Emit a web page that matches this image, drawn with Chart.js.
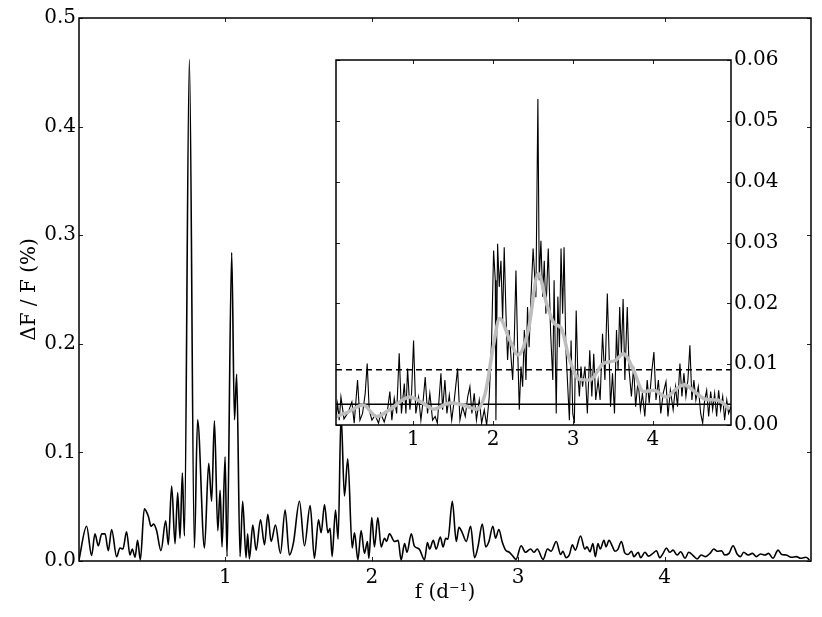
<!DOCTYPE html>
<html lang="en">
<head>
  <meta charset="UTF-8">
  <title>Amplitude spectrum</title>
  <script src="https://cdn.jsdelivr.net/npm/chart.js"></script>
  <style>
    body { margin: 0; background: #fff; }
    #wrap { position: relative; width: 822px; height: 617px; }
    #mainChart { position: absolute; left: 0; top: 0; }
    #insetChart { position: absolute; left: 326px; top: 45px; }
  </style>
</head>
<body>
  <div id="wrap">
    <canvas id="mainChart" width="822" height="617"></canvas>
    <canvas id="insetChart" width="480" height="410"></canvas>
  </div>

  <script>
    // main amplitude spectrum, f in d^-1, amplitude in %
    const mainFreq = [
      0.0, 0.052, 0.086, 0.109, 0.132, 0.155, 0.178, 0.20, 0.223, 0.257, 0.28, 0.30, 0.325, 0.348, 0.364, 0.383, 0.40, 0.419,
      0.446, 0.474, 0.492, 0.51, 0.53, 0.56, 0.592, 0.61, 0.633, 0.656, 0.674, 0.69, 0.706, 0.72, 0.754, 0.788, 0.81, 0.857,
      0.886, 0.906, 0.925, 0.948, 0.964, 0.977, 0.998, 1.011, 1.043, 1.062, 1.077, 1.10, 1.118, 1.141, 1.152, 1.164, 1.187,
      1.21, 1.24, 1.267, 1.29, 1.312, 1.342, 1.376, 1.408, 1.437, 1.465, 1.506, 1.54, 1.579, 1.608, 1.636, 1.654, 1.677, 1.70,
      1.715, 1.729, 1.752, 1.77, 1.79, 1.813, 1.836, 1.866, 1.882, 1.905, 1.927, 1.95, 1.97, 1.98, 2.0, 2.018, 2.041, 2.064,
      2.087, 2.10, 2.121, 2.155, 2.18, 2.20, 2.224, 2.24, 2.27, 2.29, 2.324, 2.36, 2.38, 2.395, 2.42, 2.44, 2.468, 2.487,
      2.505, 2.52, 2.55, 2.577, 2.595, 2.618, 2.645, 2.675, 2.702, 2.725, 2.755, 2.778, 2.80, 2.827, 2.845, 2.868, 2.89,
      2.914, 2.94, 2.96, 2.985, 3.02, 3.05, 3.085, 3.107, 3.13, 3.17, 3.2, 3.225, 3.26, 3.29, 3.305, 3.327, 3.35, 3.37, 3.39,
      3.426, 3.455, 3.47, 3.49, 3.51, 3.527, 3.545, 3.56, 3.586, 3.60, 3.62, 3.645, 3.66, 3.68, 3.705, 3.728, 3.75, 3.774,
      3.79, 3.82, 3.836, 3.866, 3.89, 3.92, 3.944, 3.967, 3.99, 4.012, 4.035, 4.058, 4.085, 4.11, 4.14, 4.165, 4.195, 4.222,
      4.25, 4.28, 4.31, 4.336, 4.36, 4.39, 4.41, 4.44, 4.468, 4.495, 4.518, 4.54, 4.57, 4.60, 4.627, 4.655, 4.685, 4.71,
      4.74, 4.775, 4.80, 4.83, 4.865, 4.9, 4.93, 4.965, 4.99
    ];
    const mainAmp = [
      0.001, 0.032, 0.005, 0.025, 0.014, 0.025, 0.025, 0.0095, 0.029, 0.004, 0.012, 0.011, 0.027, 0.0055, 0.011, 0.0035, 0.019, 0.001,
      0.048, 0.041, 0.032, 0.034, 0.028, 0.0095, 0.037, 0.015, 0.069, 0.016, 0.063, 0.021, 0.081, 0.023, 0.462, 0.012, 0.13, 0.012,
      0.09, 0.055, 0.129, 0.028, 0.065, 0.013, 0.096, 0.004, 0.284, 0.13, 0.172, 0.004, 0.055, 0.003, 0.025, 0.002, 0.033,
      0.01, 0.038, 0.015, 0.043, 0.018, 0.033, 0.007, 0.047, 0.0055, 0.017, 0.055, 0.014, 0.051, 0.0025, 0.038, 0.026, 0.052, 0.026,
      0.030, 0.004, 0.047, 0.02, 0.135, 0.06, 0.094, 0.012, 0.026, 0.001, 0.028, 0.007, 0.018, 0.0025, 0.040, 0.013, 0.040, 0.013,
      0.021, 0.018, 0.025, 0.018, 0.019, 0.001, 0.016, 0.008, 0.025, 0.014, 0.011, 0.001, 0.017, 0.011, 0.019, 0.011, 0.022, 0.013,
      0.021, 0.020, 0.055, 0.018, 0.031, 0.026, 0.018, 0.032, 0.003, 0.013, 0.034, 0.013, 0.018, 0.032, 0.021, 0.029, 0.018,
      0.01, 0.008, 0.005, 0.0015, 0.014, 0.008, 0.011, 0.008, 0.011, 0.0015, 0.011, 0.009, 0.018, 0.006, 0.009, 0.003, 0.006, 0.015, 0.01,
      0.023, 0.011, 0.013, 0.0085, 0.016, 0.004, 0.016, 0.011, 0.019, 0.013, 0.019, 0.013, 0.009, 0.0105, 0.018, 0.0075, 0.006, 0.009,
      0.004, 0.008, 0.003, 0.008, 0.0045, 0.007, 0.0095, 0.003, 0.007, 0.012, 0.008, 0.01, 0.0055, 0.0085, 0.0025, 0.008, 0.005, 0.002,
      0.0055, 0.004, 0.007, 0.011, 0.009, 0.0095, 0.0055, 0.007, 0.014, 0.0065, 0.004, 0.008, 0.0055, 0.007, 0.004, 0.0065, 0.0055, 0.007,
      0.0025, 0.01, 0.006, 0.0055, 0.0035, 0.004, 0.0025, 0.0035, 0.001
    ];

    // inset: residual spectrum (black), smoothed (grey), two levels
    const insetFreq = [
      0.03, 0.05, 0.07, 0.092, 0.13, 0.18, 0.229, 0.258, 0.30, 0.33, 0.363, 0.396, 0.421, 0.446, 0.48, 0.52, 0.563, 0.59,
      0.634, 0.676, 0.705, 0.73, 0.76, 0.79, 0.822, 0.85, 0.886, 0.906, 0.927, 0.956, 0.977, 1.002, 1.03, 1.065, 1.094,
      1.123, 1.148, 1.177, 1.206, 1.24, 1.273, 1.30, 1.345, 1.366, 1.395, 1.42, 1.45, 1.48, 1.512, 1.554, 1.583, 1.616,
      1.65, 1.68, 1.708, 1.733, 1.762, 1.79, 1.825, 1.855, 1.888, 1.918, 1.95, 1.98, 2.005, 2.026, 2.034, 2.055, 2.076,
      2.097, 2.118, 2.138, 2.16, 2.18, 2.2, 2.223, 2.244, 2.265, 2.285, 2.306, 2.327, 2.348, 2.369, 2.39, 2.41, 2.43, 2.45,
      2.47, 2.50, 2.535, 2.56, 2.577, 2.598, 2.62, 2.64, 2.66, 2.69, 2.72, 2.747, 2.763, 2.79, 2.81, 2.83, 2.85, 2.87, 2.888,
      2.91, 2.93, 2.955, 2.976, 2.997, 3.017, 3.04, 3.06, 3.08, 3.10, 3.12, 3.15, 3.18, 3.21, 3.236, 3.26, 3.285, 3.315,
      3.34, 3.37, 3.4, 3.43, 3.45, 3.47, 3.495, 3.52, 3.545, 3.565, 3.585, 3.607, 3.628, 3.65, 3.68, 3.703, 3.732, 3.76,
      3.785, 3.815, 3.845, 3.87, 3.9, 3.93, 3.955, 3.985, 4.014, 4.04, 4.07, 4.1, 4.13, 4.165, 4.19, 4.22, 4.255, 4.285,
      4.31, 4.34, 4.365, 4.39, 4.415, 4.44, 4.465, 4.49, 4.515, 4.54, 4.57, 4.6, 4.625, 4.65, 4.675, 4.7, 4.725, 4.75,
      4.775, 4.8, 4.825, 4.85, 4.876, 4.9, 4.927, 4.95, 4.98
    ];
    const insetAmp = [
      0.0012, 0.0035, 0.0008, 0.0046, 0.001, 0.002, 0.0038, 0.0003, 0.0074, 0.0008, 0.0019, 0.0052, 0.0101, 0.0025, 0.0008, 0.0016, 0.0003, 0.0019,
      0.0005, 0.0025, 0.0055, 0.0008, 0.0044, 0.0019, 0.0118, 0.0019, 0.0068, 0.0019, 0.0093, 0.0025, 0.0052, 0.0139, 0.0019, 0.0046, 0.0008,
      0.0041, 0.0079, 0.0019, 0.0052, 0.0008, 0.0014, 0.0003, 0.0085, 0.0025, 0.0074, 0.0019, 0.0049, 0.0008, 0.0041, 0.0093, 0.0008, 0.003,
      0.0014, 0.0046, 0.0063, 0.0019, 0.0052, 0.0008, 0.0041, 0.0003, 0.0025, 0.0, 0.0046, 0.0139, 0.0287, 0.0238, 0.0008, 0.0298, 0.0227,
      0.0270, 0.0172, 0.0292, 0.0183, 0.0107, 0.0156, 0.0112, 0.0074, 0.0145, 0.0254, 0.0128, 0.0025, 0.0096, 0.0063, 0.0156, 0.0074, 0.0194, 0.0128,
      0.020, 0.029, 0.021, 0.0536, 0.0238, 0.0303, 0.0211, 0.0270, 0.0183, 0.0290, 0.0150, 0.0074, 0.0238, 0.0019, 0.0211, 0.0128, 0.0290, 0.0183, 0.0292,
      0.0128, 0.0074, 0.0008, 0.0139, 0.0019, 0.0003, 0.0188, 0.0085, 0.0047, 0.0096, 0.0063, 0.0096, 0.0019, 0.0123, 0.0047, 0.0117, 0.0041, 0.0074,
      0.0041, 0.0150, 0.0074, 0.0216, 0.0128, 0.003, 0.0085, 0.0019, 0.0156, 0.009, 0.0194, 0.0117, 0.0207, 0.0074, 0.0194, 0.009, 0.0047, 0.0096,
      0.003, 0.0074, 0.0025, 0.0052, 0.0014, 0.0074, 0.0036, 0.0085, 0.0120, 0.0041, 0.0074, 0.0019, 0.0052, 0.0071, 0.0014, 0.0057, 0.0025, 0.0063,
      0.003, 0.0101, 0.0047, 0.0085, 0.0047, 0.0074, 0.0131, 0.0041, 0.0074, 0.0041, 0.0063, 0.0019, 0.0003, 0.0041, 0.0057, 0.0014, 0.0055, 0.0025,
      0.0052, 0.0014, 0.0057, 0.0025, 0.0047, 0.0008, 0.0041, 0.0019, 0.003
    ];
    const smoothFreq = [
      0.03, 0.16, 0.37, 0.54, 0.70, 0.956, 1.12, 1.25, 1.46, 1.62, 1.79, 1.9, 2.0, 2.08, 2.21, 2.31, 2.44, 2.565,
      2.67, 2.77, 2.85, 2.96, 3.08, 3.21, 3.38, 3.53, 3.63, 3.76, 3.88, 4.01, 4.17, 4.30, 4.40, 4.52, 4.67, 4.81, 4.96
    ];
    const smoothAmp = [
      0.0014, 0.002, 0.0033, 0.0014, 0.0025, 0.0046, 0.0036, 0.0026, 0.0036, 0.0033, 0.0026, 0.0052, 0.0128, 0.0175, 0.0139, 0.0115, 0.0156, 0.0249,
      0.0199, 0.0166, 0.016, 0.0106, 0.0075, 0.0074, 0.0101, 0.0106, 0.0117, 0.009, 0.0055, 0.0057, 0.0046, 0.006, 0.0066, 0.0055, 0.0042, 0.0041, 0.0027
    ];
    const noiseLevel = 0.0034;
    const thresholdLevel = 0.0091;

    const mainXTicks = [1, 2, 3, 4];
    const mainYTicks = [0, 0.1, 0.2, 0.3, 0.4, 0.5];
    const insetXTicks = [1, 2, 3, 4];
    const insetYTicks = [0, 0.01, 0.02, 0.03, 0.04, 0.05, 0.06];
    const insetRange = [0.03, 4.98];

    function pts(xs, ys) {
      return xs.map((x, i) => ({ x: x, y: ys[i] }));
    }

    Chart.defaults.font.family = "'DejaVu Serif', serif";
    Chart.defaults.font.size = 20;
    Chart.defaults.color = '#000';

    // matplotlib-like frame with inward ticks on all four sides
    const frameTicks = {
      id: 'frameTicks',
      beforeDatasetsDraw(chart, args, opts) {
        if (!opts.fill) return;
        const a = chart.chartArea;
        chart.ctx.save();
        chart.ctx.fillStyle = '#fff';
        chart.ctx.fillRect(a.left, a.top, a.right - a.left, a.bottom - a.top);
        chart.ctx.restore();
      },
      afterDatasetsDraw(chart) {
        const ctx = chart.ctx;
        const a = chart.chartArea;
        const xs = chart.scales.x, ys = chart.scales.y;
        const len = 4;
        ctx.save();
        ctx.strokeStyle = '#222';
        ctx.lineWidth = 1;
        ctx.beginPath();
        xs.ticks.forEach(t => {
          const p = Math.round(xs.getPixelForValue(t.value)) + 0.5;
          ctx.moveTo(p, a.bottom); ctx.lineTo(p, a.bottom - len);
          ctx.moveTo(p, a.top); ctx.lineTo(p, a.top + len);
        });
        ys.ticks.forEach(t => {
          const p = Math.round(ys.getPixelForValue(t.value)) + 0.5;
          ctx.moveTo(a.left, p); ctx.lineTo(a.left + len, p);
          ctx.moveTo(a.right, p); ctx.lineTo(a.right - len, p);
        });
        ctx.stroke();
        ctx.strokeStyle = '#000';
        ctx.lineWidth = 1.5;
        ctx.strokeRect(a.left, a.top, a.right - a.left, a.bottom - a.top);
        ctx.restore();
      }
    };

    const noGrid = { display: false, drawTicks: false };

    new Chart(document.getElementById('mainChart'), {
      type: 'line',
      data: {
        datasets: [{
          data: pts(mainFreq, mainAmp),
          borderColor: '#000',
          borderWidth: 1.6,
          pointRadius: 0,
          cubicInterpolationMode: 'monotone',
          fill: false
        }]
      },
      options: {
        responsive: false,
        animation: false,
        layout: { padding: { left: 0, top: 18, right: 11, bottom: 0 } },
        plugins: { legend: { display: false }, tooltip: { enabled: false }, frameTicks: { fill: false } },
        scales: {
          x: {
            type: 'linear',
            min: 0,
            max: 5,
            afterBuildTicks: s => { s.ticks = mainXTicks.map(v => ({ value: v })); },
            afterFit: s => { s.height = 56; },
            grid: noGrid,
            border: { display: false },
            ticks: { padding: 5, maxRotation: 0, callback: v => String(v) },
            title: { display: true, text: 'f (d⁻¹)', padding: { top: 0, bottom: 12 } }
          },
          y: {
            type: 'linear',
            min: 0,
            max: 0.5,
            afterBuildTicks: s => { s.ticks = mainYTicks.map(v => ({ value: v })); },
            afterFit: s => { s.width = 79; },
            grid: noGrid,
            border: { display: false },
            ticks: { padding: 3, callback: v => v.toFixed(1) },
            title: { display: true, text: 'ΔF / F (%)', padding: { top: 18, bottom: 0 } }
          }
        }
      },
      plugins: [frameTicks]
    });

    new Chart(document.getElementById('insetChart'), {
      type: 'line',
      data: {
        datasets: [
          {
            data: pts(smoothFreq, smoothAmp),
            borderColor: '#bdbdbd',
            borderWidth: 3.5,
            pointRadius: 0,
            cubicInterpolationMode: 'monotone'
          },
          {
            data: pts(insetRange, [thresholdLevel, thresholdLevel]),
            borderColor: '#000',
            borderWidth: 1.5,
            borderDash: [6, 4],
            pointRadius: 0
          },
          {
            data: pts(insetRange, [noiseLevel, noiseLevel]),
            borderColor: '#000',
            borderWidth: 1.5,
            pointRadius: 0
          },
          {
            data: pts(insetFreq, insetAmp),
            borderColor: '#000',
            borderWidth: 1.1,
            pointRadius: 0,
            tension: 0
          }
        ]
      },
      options: {
        responsive: false,
        animation: false,
        layout: { padding: { left: 10, top: 14, right: 0, bottom: 0 } },
        plugins: { legend: { display: false }, tooltip: { enabled: false }, frameTicks: { fill: true } },
        scales: {
          x: {
            type: 'linear',
            min: insetRange[0],
            max: insetRange[1],
            afterBuildTicks: s => { s.ticks = insetXTicks.map(v => ({ value: v })); },
            afterFit: s => { s.height = 30; },
            grid: noGrid,
            border: { display: false },
            ticks: { padding: 3, maxRotation: 0, callback: v => String(v) }
          },
          y: {
            type: 'linear',
            position: 'right',
            min: 0,
            max: 0.06,
            afterBuildTicks: s => { s.ticks = insetYTicks.map(v => ({ value: v })); },
            afterFit: s => { s.width = 75; },
            grid: noGrid,
            border: { display: false },
            ticks: { padding: 3, callback: v => v.toFixed(2) }
          }
        }
      },
      plugins: [frameTicks]
    });
  </script>
</body>
</html>
